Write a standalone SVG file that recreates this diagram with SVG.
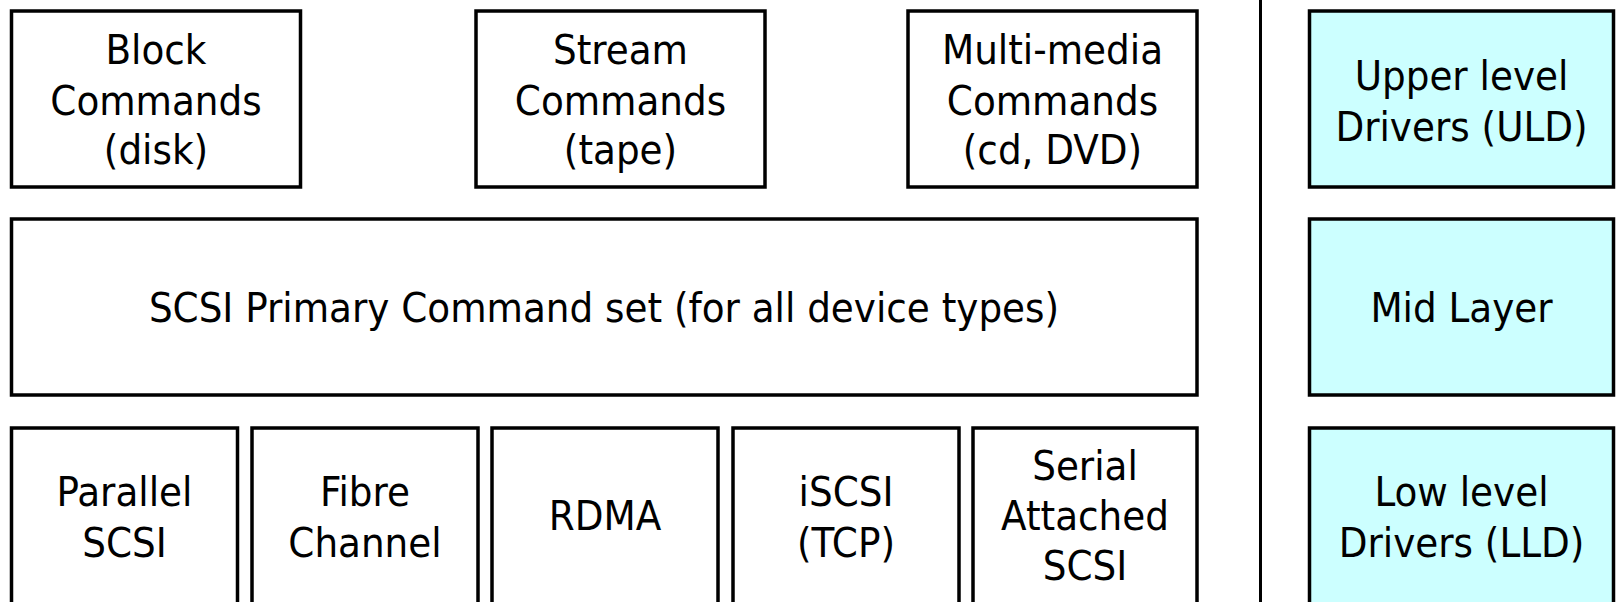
<svg xmlns="http://www.w3.org/2000/svg" width="1620" height="602" viewBox="0 0 1620 602">
<style>
.b{fill:#fff;stroke:#000;stroke-width:3.5}
.c{fill:#ccffff;stroke:#000;stroke-width:3.5}
text{font-family:"DejaVu Sans Condensed","DejaVu Sans",sans-serif;font-size:41.5px;fill:#000;text-anchor:middle}
</style>
<rect width="1620" height="602" fill="#fff"/>
<g id="block"><rect class="b" x="11.5" y="11" width="289" height="176"/><text x="156" y="64">Block</text><text x="156" y="115">Commands</text><text x="156" y="164">(disk)</text></g>
<g id="stream"><rect class="b" x="476" y="11" width="289" height="176"/><text x="620.5" y="64">Stream</text><text x="620.5" y="115">Commands</text><text x="620.5" y="164">(tape)</text></g>
<g id="mmc"><rect class="b" x="908" y="11" width="289" height="176"/><text x="1052.5" y="64">Multi-media</text><text x="1052.5" y="115">Commands</text><text x="1052.5" y="164">(cd, DVD)</text></g>
<g id="spc"><rect class="b" x="11.5" y="219" width="1185.5" height="176"/><text x="604" y="322">SCSI Primary Command set (for all device types)</text></g>
<g id="parallel"><rect class="b" x="11.5" y="428" width="226" height="190"/><text x="124.5" y="506">Parallel</text><text x="124.5" y="557">SCSI</text></g>
<g id="fibre"><rect class="b" x="252" y="428" width="226" height="190"/><text x="365" y="506">Fibre</text><text x="365" y="557">Channel</text></g>
<g id="rdma"><rect class="b" x="492" y="428" width="226" height="190"/><text x="605" y="530">RDMA</text></g>
<g id="iscsi"><rect class="b" x="733" y="428" width="226" height="190"/><text x="846" y="506">iSCSI</text><text x="846" y="557">(TCP)</text></g>
<g id="sas"><rect class="b" x="973" y="428" width="224" height="190"/><text x="1085" y="480">Serial</text><text x="1085" y="530">Attached</text><text x="1085" y="580">SCSI</text></g>
<g id="connectors"><line x1="1260.5" y1="0" x2="1260.5" y2="602" stroke="#000" stroke-width="3"/></g>
<g id="uld"><rect class="c" x="1309.5" y="11" width="304" height="176"/><text x="1461.5" y="90">Upper level</text><text x="1461.5" y="141">Drivers (ULD)</text></g>
<g id="mid"><rect class="c" x="1309.5" y="219" width="304" height="176"/><text x="1461.5" y="322">Mid Layer</text></g>
<g id="lld"><rect class="c" x="1309.5" y="428" width="304" height="190"/><text x="1461.5" y="506">Low level</text><text x="1461.5" y="557">Drivers (LLD)</text></g>
</svg>
